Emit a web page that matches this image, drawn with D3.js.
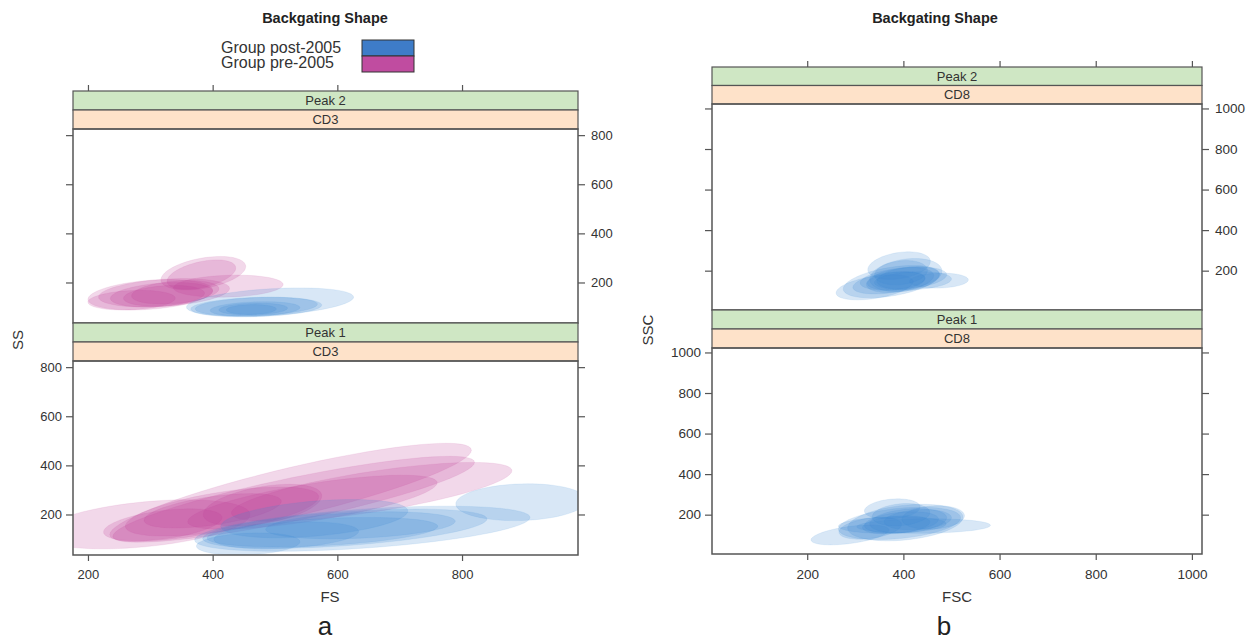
<!DOCTYPE html>
<html>
<head>
<meta charset="utf-8">
<script src="https://cdn.jsdelivr.net/npm/d3@7"></script>
<style>
  body { margin: 0; background: #fff; }
  svg text { font-family: "Liberation Sans", Arial, sans-serif; }
</style>
</head>
<body>
<svg id="chart" width="1260" height="642"></svg>
<script>
// groups shown in the legend
var groupNames = ["Group post-2005", "Group pre-2005"];
var groupKeys = ["post", "pre"];

// tick values
var ticksA = [200, 400, 600, 800];
var ticksB = [200, 400, 600, 800, 1000];

// ellipses: [group, centre x, centre y, half range x, half range y, correlation]
var cd3Peak2 = [
    ["pre", 385, 238, 68, 68, 0.4],
    ["pre", 382, 232, 55, 60, 0.45],
    ["pre", 425, 185, 88, 45, 0.15],
    ["pre", 300, 150, 100, 62, 0.3],
    ["pre", 322, 158, 105, 58, 0.3],
    ["pre", 322, 146, 65, 42, 0.25],
    ["pre", 318, 150, 82, 50, 0.3],
    ["pre", 270, 128, 70, 40, 0.2],
    ["pre", 340, 160, 70, 48, 0.3],
    ["post", 492, 120, 134, 58, 0.35],
    ["post", 470, 100, 105, 40, 0.2],
    ["post", 468, 92, 72, 30, 0.2],
    ["post", 465, 92, 55, 24, 0.15],
    ["post", 470, 102, 98, 38, 0.25],
    ["post", 462, 90, 40, 20, 0.1]
];

var cd3Peak1 = [
    ["pre", 291, 160, 169, 100, 0.4],
    ["pre", 525, 290, 290, 200, 0.86],
    ["pre", 655, 292, 225, 120, 0.72],
    ["pre", 530, 262, 290, 175, 0.86],
    ["pre", 560, 250, 200, 110, 0.72],
    ["pre", 415, 212, 155, 100, 0.6],
    ["pre", 480, 238, 95, 85, 0.45],
    ["pre", 320, 158, 95, 65, 0.45],
    ["pre", 400, 215, 110, 70, 0.55],
    ["post", 895, 250, 105, 75, 0.1],
    ["post", 640, 142, 269, 92, 0.5],
    ["post", 612, 142, 228, 80, 0.5],
    ["post", 563, 183, 150, 78, 0.4],
    ["post", 576, 128, 185, 60, 0.4],
    ["post", 518, 115, 116, 55, 0.3],
    ["post", 637, 156, 152, 55, 0.3],
    ["post", 457, 80, 83, 45, 0.2]
];

var cd8Peak2 = [
    ["post", 375, 146, 100, 80, 0.45],
    ["post", 391, 225, 65, 68, 0.3],
    ["post", 474, 151, 61, 37, 0.1],
    ["post", 405, 178, 75, 82, 0.25],
    ["post", 393, 154, 70, 62, 0.35],
    ["post", 340, 118, 80, 62, 0.45],
    ["post", 400, 160, 90, 58, 0.35],
    ["post", 385, 150, 60, 45, 0.3],
    ["post", 410, 165, 65, 55, 0.3],
    ["post", 370, 140, 75, 55, 0.4],
    ["post", 395, 190, 55, 60, 0.2],
    ["post", 420, 150, 80, 45, 0.2]
];

var cd8Peak1 = [
    ["post", 289, 100, 81, 49, 0.5],
    ["post", 442, 144, 139, 36, 0.1],
    ["post", 377, 228, 58, 50, 0.2],
    ["post", 392, 157, 127, 80, 0.35],
    ["post", 404, 161, 120, 90, 0.3],
    ["post", 377, 149, 112, 41, 0.15],
    ["post", 396, 162, 77, 53, 0.3],
    ["post", 462, 186, 65, 58, 0.15],
    ["post", 331, 133, 65, 54, 0.35],
    ["post", 410, 170, 80, 60, 0.25],
    ["post", 385, 150, 70, 45, 0.3],
    ["post", 430, 175, 70, 50, 0.2],
    ["post", 395, 200, 60, 55, 0.2]
];

var fillColor = { post: "#3a88d4", pre: "#c03c96" };
var keyColor = { post: "#3e7cc8", pre: "#c04ca0" };
var frameColor = "#555";
var textColor = "#333";

var svg = d3.select("#chart");
var clipId = 0;

// points of an ellipse with given spread and correlation, in data units
function ellipsePoints(e) {
    var cx = e[1], cy = e[2], sx = e[3], sy = e[4], r = e[5];
    var k = Math.sqrt(1 - r * r);
    return d3.range(0, 73).map(i => {
        var t = i / 72 * 2 * Math.PI;
        return [cx + sx * Math.cos(t), cy + sy * (r * Math.cos(t) + k * Math.sin(t))];
    });
}

function styleAxis(g, size) {
    g.select(".domain").remove();
    g.selectAll(".tick line").attr("stroke", frameColor).attr("stroke-width", 1.2);
    g.selectAll(".tick text")
        .attr("fill", textColor)
        .style("font-size", size + "px");
}

function drawPanel(p) {
    var x = d3.scaleLinear().domain(p.xDomain).range([p.left, p.right]);
    var y = d3.scaleLinear().domain(p.yDomain).range([p.bottom, p.top]);
    var fmt = d3.format("d");
    var none = () => "";

    var id = "clip" + (clipId++);
    svg.append("clipPath").attr("id", id)
        .append("rect")
        .attr("x", p.left).attr("y", p.top)
        .attr("width", p.right - p.left).attr("height", p.bottom - p.top);

    var line = d3.line().x(d => x(d[0])).y(d => y(d[1]));

    svg.append("g")
        .attr("clip-path", "url(#" + id + ")")
        .selectAll("path")
        .data(p.data)
        .enter()
        .append("path")
        .attr("d", d => line(ellipsePoints(d)) + "Z")
        .attr("fill", d => fillColor[d[0]])
        .attr("fill-opacity", 0.2)
        .attr("stroke", d => fillColor[d[0]])
        .attr("stroke-opacity", 0.12)
        .attr("stroke-width", 0.8);

    // y axes on both sides, labels on one side only
    var left = svg.append("g")
        .attr("transform", "translate(" + p.left + ",0)")
        .call(d3.axisLeft(y).tickValues(p.yTicks).tickSize(7).tickPadding(4)
            .tickFormat(p.labelSide === "left" ? fmt : none));
    styleAxis(left, p.fontSize);

    var right = svg.append("g")
        .attr("transform", "translate(" + p.right + ",0)")
        .call(d3.axisRight(y).tickValues(p.yTicks).tickSize(7).tickPadding(6)
            .tickFormat(p.labelSide === "right" ? fmt : none));
    styleAxis(right, p.fontSize);

    if (p.bottomAxis) {
        var bottom = svg.append("g")
            .attr("transform", "translate(0," + p.bottom + ")")
            .call(d3.axisBottom(x).tickValues(p.xTicks).tickSize(6).tickPadding(9).tickFormat(fmt));
        styleAxis(bottom, p.fontSize);
    }

    // strips above the panel
    var sh = p.stripH;
    var stripTop = p.top - sh * p.strips.length;
    p.strips.forEach((s, i) => {
        var y0 = stripTop + i * sh;
        svg.append("rect")
            .attr("x", p.left).attr("y", y0)
            .attr("width", p.right - p.left).attr("height", sh)
            .attr("fill", i === 0 ? "#cfe7c4" : "#fee2c9")
            .attr("stroke", frameColor).attr("stroke-width", 1.2);
        svg.append("text")
            .attr("x", (p.left + p.right) / 2).attr("y", y0 + sh / 2)
            .attr("dy", "0.36em")
            .attr("text-anchor", "middle")
            .attr("fill", textColor)
            .style("font-size", "13px")
            .text(s);
    });

    if (p.topAxis) {
        var top = svg.append("g")
            .attr("transform", "translate(0," + stripTop + ")")
            .call(d3.axisTop(x).tickValues(p.xTicks).tickSize(6).tickFormat(none));
        styleAxis(top, p.fontSize);
    }

    svg.append("rect")
        .attr("x", p.left).attr("y", p.top)
        .attr("width", p.right - p.left).attr("height", p.bottom - p.top)
        .attr("fill", "none")
        .attr("stroke", frameColor).attr("stroke-width", 1.5);
}

function addText(x, y, str, size, opts) {
    opts = opts || {};
    var t = svg.append("text")
        .attr("x", x).attr("y", y)
        .attr("dy", "0.36em")
        .attr("text-anchor", opts.anchor || "middle")
        .attr("fill", opts.color || textColor)
        .style("font-size", size + "px")
        .style("font-weight", opts.bold ? "bold" : "normal")
        .text(str);
    if (opts.rotate) {
        t.attr("transform", "rotate(-90," + x + "," + y + ")");
    }
    return t;
}

// ---- panel a ----
var xDomA = [176, 986], yDomA = [35, 825];
drawPanel({ left: 73, right: 578, top: 129, bottom: 323, xDomain: xDomA, yDomain: yDomA,
    xTicks: ticksA, yTicks: ticksA, strips: ["Peak 2", "CD3"], stripH: 19,
    data: cd3Peak2, labelSide: "right", topAxis: true, bottomAxis: false, fontSize: 13 });
drawPanel({ left: 73, right: 578, top: 361, bottom: 555, xDomain: xDomA, yDomain: yDomA,
    xTicks: ticksA, yTicks: ticksA, strips: ["Peak 1", "CD3"], stripH: 19,
    data: cd3Peak1, labelSide: "left", topAxis: false, bottomAxis: true, fontSize: 13 });

addText(325, 18, "Backgating Shape", 14.5, { bold: true, color: "#222" });
addText(18, 340, "SS", 15, { rotate: true });
addText(330, 597, "FS", 15);
addText(325, 626, "a", 26, { color: "#222" });

// legend
var legend = svg.append("g");
groupNames.forEach((name, i) => {
    addText(221, 47 + i * 15, name, 16, { anchor: "start" });
    legend.append("rect")
        .attr("x", 362).attr("y", 40 + i * 16)
        .attr("width", 52).attr("height", 16)
        .attr("fill", keyColor[groupKeys[i]])
        .attr("stroke", "#333").attr("stroke-width", 1);
});

// ---- panel b ----
var xDomB = [2, 1021], yDomB = [6, 1022];
drawPanel({ left: 712, right: 1202, top: 104, bottom: 310, xDomain: xDomB, yDomain: yDomB,
    xTicks: ticksB, yTicks: ticksB, strips: ["Peak 2", "CD8"], stripH: 18.5,
    data: cd8Peak2, labelSide: "right", topAxis: true, bottomAxis: false, fontSize: 13.5 });
drawPanel({ left: 712, right: 1202, top: 348, bottom: 554, xDomain: xDomB, yDomain: yDomB,
    xTicks: ticksB, yTicks: ticksB, strips: ["Peak 1", "CD8"], stripH: 19,
    data: cd8Peak1, labelSide: "left", topAxis: false, bottomAxis: true, fontSize: 13.5 });

addText(935, 18, "Backgating Shape", 14.5, { bold: true, color: "#222" });
addText(648, 330, "SSC", 15, { rotate: true });
addText(957, 597, "FSC", 15);
addText(944, 626, "b", 26, { color: "#222" });
</script>
</body>
</html>
